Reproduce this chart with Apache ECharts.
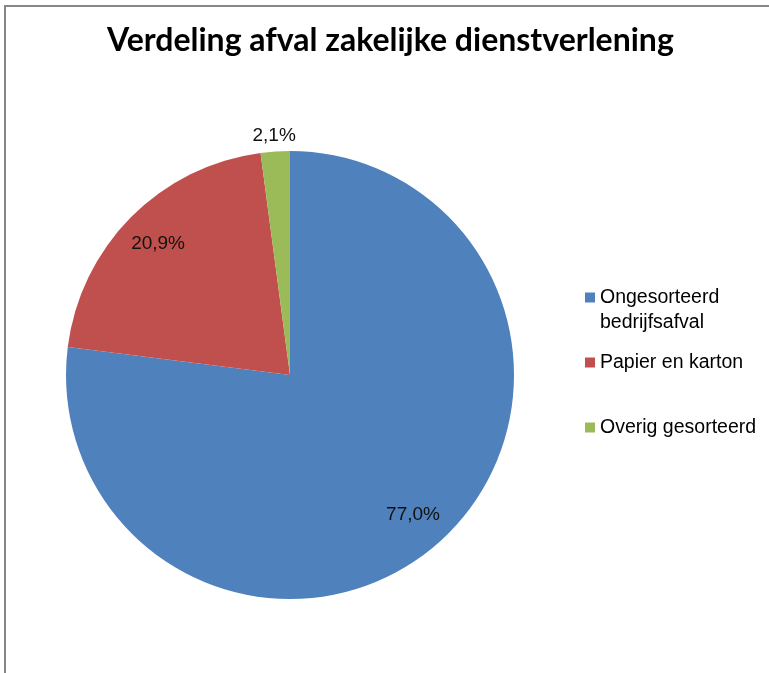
<!DOCTYPE html>
<html>
<head>
<meta charset="utf-8">
<script src="https://cdn.jsdelivr.net/npm/echarts@6/dist/echarts.min.js"></script>
<style>
html,body{margin:0;padding:0;background:#fff;overflow:hidden;}
#chart{position:absolute;left:0;top:0;width:769px;height:673px;}
#frame{position:absolute;left:4px;top:5px;width:800px;height:800px;border:2px solid #868686;pointer-events:none;box-sizing:border-box;}
</style>
</head>
<body>
<div id="chart"></div>
<div id="frame"></div>
<script>
const titleText = 'Verdeling afval zakelijke dienstverlening';
const categories = ['Ongesorteerd bedrijfsafval', 'Papier en karton', 'Overig gesorteerd'];
const values = [77.0, 20.9, 2.1];
const colors = ['#4F81BD', '#C0504D', '#9BBB59'];
const outsideLabel = [false, false, true];

const fmt = p => p.value.toFixed(1).replace('.', ',') + '%';
const center = [290, 375];
const labelFont = {fontFamily: 'Liberation Sans', fontSize: 19, color: '#111'};

const mainData = categories.map((c, i) => ({name: c, value: values[i], itemStyle: {color: colors[i]}}));
const innerLabelData = categories.map((c, i) => ({name: c, value: values[i], label: {show: !outsideLabel[i]}}));
const outerLabelData = categories.map((c, i) => ({name: c, value: values[i], label: {show: outsideLabel[i]}}));

const legendStyle = {fontFamily: 'Liberation Sans', fontSize: 19.5, color: '#000', lineHeight: 25};
const legends = [
  {top: 260, formatter: n => '\n' + n.replace(' ', '\n')},
  {top: 350},
  {top: 415}
].map((l, i) => Object.assign({
  orient: 'vertical', left: 585, padding: 0, itemWidth: 10, itemHeight: 10, itemGap: 0,
  icon: 'rect', data: [categories[i]], textStyle: legendStyle, selectedMode: false
}, l));

const chart = echarts.init(document.getElementById('chart'), null, {renderer: 'canvas'});
chart.setOption({
  animation: false,
  backgroundColor: '#fff',
  title: {
    text: titleText, left: 102, top: 20,
    textStyle: {fontFamily: 'Lato', fontWeight: 'bold', fontSize: 32, color: '#000'}
  },
  legend: legends,
  series: [
    {
      type: 'pie', center: center, radius: [0, 224], startAngle: 90, clockwise: true,
      label: {show: false}, labelLine: {show: false}, silent: true,
      itemStyle: {borderWidth: 0}, data: mainData
    },
    {
      type: 'pie', center: center, radius: [146, 220], startAngle: 90, clockwise: true,
      silent: true, itemStyle: {color: 'rgba(0,0,0,0)', borderWidth: 0},
      label: Object.assign({position: 'inside', formatter: fmt}, labelFont),
      labelLine: {show: false}, data: innerLabelData
    },
    {
      type: 'pie', center: center, radius: [224, 250], startAngle: 90, clockwise: true,
      silent: true, itemStyle: {color: 'rgba(0,0,0,0)', borderWidth: 0},
      label: Object.assign({position: 'inside', formatter: fmt}, labelFont),
      labelLine: {show: false}, data: outerLabelData
    }
  ]
});
</script>
</body>
</html>
